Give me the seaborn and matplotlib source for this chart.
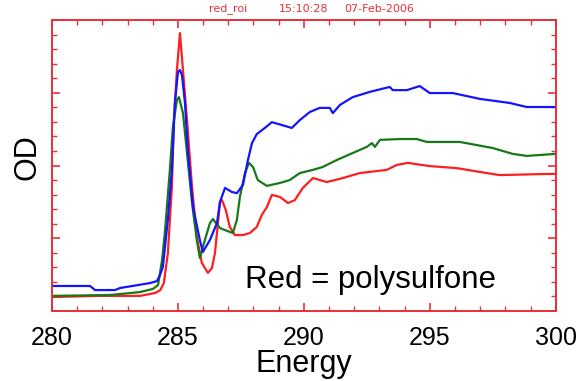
import pandas as pd
import matplotlib
matplotlib.use("Agg")
import matplotlib.pyplot as plt
from matplotlib.ticker import MultipleLocator
import seaborn as sns

# Spectra (energy in eV, OD in arbitrary units)
red_energy = [280.0, 281.9, 283.5, 284.1, 284.3, 284.44, 284.6, 284.76, 284.84, 284.96, 285.08,
              285.2, 285.36, 285.56, 285.75, 285.95, 286.19, 286.35, 286.47, 286.67, 286.75,
              286.9, 287.06, 287.26, 287.58, 287.86, 288.13, 288.33, 288.53, 288.73, 289.05,
              289.37, 289.64, 289.96, 290.36, 290.91, 291.55, 292.22, 293.29, 293.69, 294.13,
              295.0, 296.07, 296.98, 297.78, 299.64, 300.0]
red_od = [0.048, 0.052, 0.052, 0.062, 0.072, 0.096, 0.199, 0.426, 0.656, 0.828, 0.955,
          0.828, 0.656, 0.426, 0.254, 0.165, 0.131, 0.148, 0.199, 0.375, 0.381,
          0.347, 0.289, 0.261, 0.261, 0.268, 0.289, 0.330, 0.357, 0.399, 0.392,
          0.371, 0.381, 0.423, 0.457, 0.443, 0.457, 0.474, 0.485, 0.502, 0.509,
          0.498, 0.491, 0.478, 0.467, 0.471, 0.471]

blue_energy = [280.0, 281.51, 281.71, 282.5, 282.7, 283.89, 284.17, 284.29, 284.4, 284.6, 284.76,
               284.88, 285.0, 285.08, 285.16, 285.28, 285.4, 285.6, 285.87, 285.99, 286.27,
               286.55, 286.67, 286.87, 287.14, 287.34, 287.58, 287.78, 287.94, 288.13, 288.45,
               288.73, 289.13, 289.52, 289.84, 290.24, 290.63, 291.03, 291.15, 291.43, 291.94,
               292.62, 293.41, 293.53, 294.09, 294.6, 295.0, 295.91, 296.98, 298.17, 298.85, 300.0]
blue_od = [0.086, 0.086, 0.072, 0.072, 0.079, 0.096, 0.103, 0.124, 0.151, 0.313, 0.485,
           0.715, 0.821, 0.828, 0.811, 0.715, 0.543, 0.357, 0.244, 0.203, 0.244,
           0.302, 0.375, 0.423, 0.409, 0.405, 0.433, 0.519, 0.577, 0.608, 0.629,
           0.649, 0.639, 0.629, 0.656, 0.684, 0.698, 0.698, 0.680, 0.708, 0.735,
           0.753, 0.770, 0.759, 0.759, 0.773, 0.749, 0.749, 0.729, 0.715, 0.701, 0.701]

green_energy = [280.0, 282.3, 283.49, 284.01, 284.21, 284.37, 284.48, 284.68, 284.8, 284.96, 285.04,
                285.2, 285.36, 285.56, 285.75, 285.87, 286.07, 286.27, 286.39, 286.51, 286.67,
                286.87, 287.18, 287.34, 287.46, 287.66, 287.82, 287.98, 288.17, 288.53, 289.05,
                289.44, 289.84, 290.36, 290.75, 291.31, 291.94, 292.5, 292.7, 292.82, 293.02,
                293.81, 294.48, 294.88, 296.19, 297.5, 298.29, 298.85, 300.0]
green_od = [0.052, 0.055, 0.065, 0.076, 0.089, 0.175, 0.268, 0.485, 0.632, 0.725, 0.735,
            0.680, 0.543, 0.371, 0.244, 0.182, 0.244, 0.302, 0.316, 0.302, 0.285,
            0.278, 0.268, 0.313, 0.392, 0.474, 0.509, 0.495, 0.450, 0.430, 0.440,
            0.450, 0.474, 0.485, 0.495, 0.519, 0.543, 0.564, 0.577, 0.564, 0.588,
            0.591, 0.591, 0.581, 0.581, 0.560, 0.540, 0.533, 0.540]

x_ticks = [280, 285, 290, 295, 300]
x_tick_labels = ["280", "285", "290", "295", "300"]

frames = []
for name, e, od in [("red", red_energy, red_od), ("green", green_energy, green_od),
                    ("blue", blue_energy, blue_od)]:
    frames.append(pd.DataFrame({"Energy": e, "OD": od, "Sample": name}))
df = pd.concat(frames, ignore_index=True)

sns.set_style("white")
plt.rcParams["font.family"] = ["Liberation Sans", "DejaVu Sans"]
plt.rcParams["text.color"] = "black"
plt.rcParams["axes.labelcolor"] = "black"

fig = plt.figure(figsize=(5.81, 3.81), dpi=100)
ax = fig.add_axes([0.0895, 0.1837, 0.867, 0.7638])

palette = {"red": "#ff1e1e", "green": "#187818", "blue": "#1414ff"}
sns.lineplot(data=df, x="Energy", y="OD", hue="Sample", palette=palette,
             estimator=None, sort=False, legend=False, linewidth=1.6, ax=ax)

ax.set_xlim(280, 300)
ax.set_ylim(0, 1)
frame_red = "#e8303a"
for s in ax.spines.values():
    s.set_color(frame_red)
    s.set_linewidth(1.4)

ax.set_xticks(x_ticks)
ax.set_xticklabels(x_tick_labels)
ax.xaxis.set_minor_locator(MultipleLocator(1))
ax.yaxis.set_major_locator(MultipleLocator(0.25))
ax.yaxis.set_minor_locator(MultipleLocator(0.05))
ax.tick_params(which="both", direction="in", color=frame_red, top=True, right=True,
               left=True, bottom=True)
ax.tick_params(which="major", length=6, width=1.2)
ax.tick_params(which="minor", length=3.5, width=1.0)
ax.tick_params(axis="x", which="major", labelsize=18, pad=10.5, labelcolor="black")
ax.tick_params(axis="y", which="both", labelleft=False)

ax.set_xlabel("Energy", fontsize=22, labelpad=-0.5)
ax.set_ylabel("OD", fontsize=22)
ax.yaxis.set_label_coords(-0.018, 0.53)

ax.text(287.66, 0.079, "Red = polysulfone", fontsize=22.5, ha="left", va="baseline")

ax.text(0.35, 1.02, "red_roi", color=frame_red, fontsize=8, ha="center", va="bottom",
        transform=ax.transAxes, family="DejaVu Sans")
ax.text(0.50, 1.02, "15:10:28", color=frame_red, fontsize=8, ha="center", va="bottom",
        transform=ax.transAxes, family="DejaVu Sans")
ax.text(0.65, 1.02, "07-Feb-2006", color=frame_red, fontsize=8, ha="center", va="bottom",
        transform=ax.transAxes, family="DejaVu Sans")

fig.savefig("out.png", dpi=100)
